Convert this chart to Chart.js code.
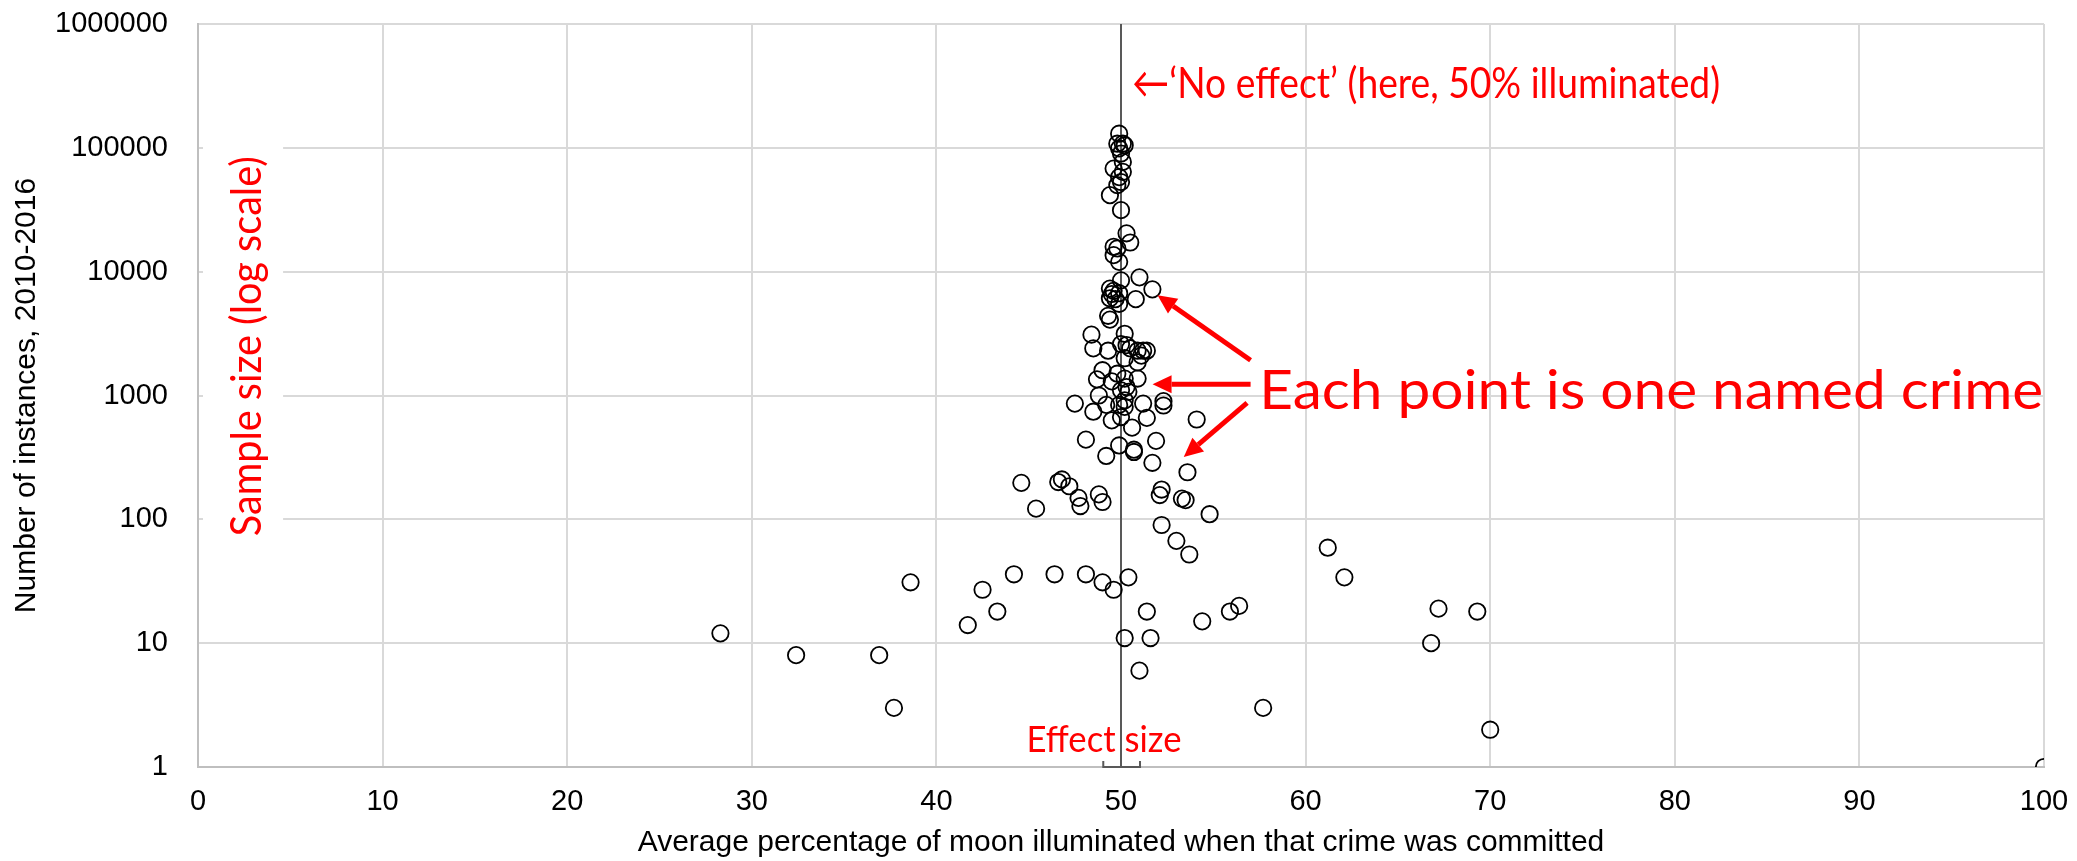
<!DOCTYPE html>
<html>
<head>
<meta charset="utf-8">
<title>Moon illumination vs crime</title>
<script src="https://cdn.jsdelivr.net/npm/chart.js@4.4.1/dist/chart.umd.min.js"></script>
<style>
  html, body { margin: 0; padding: 0; background: #fff; }
  #chart { display: block; }
</style>
</head>
<body>
<canvas id="chart" width="2077" height="861"></canvas>
<script>
/* ── Data ──────────────────────────────────────────────────────────────────── */
// average % of moon illuminated when each named crime was committed
const crimePct = [
  49.9, 49.8, 50.1, 50.2, 49.9, 50.0, 50.1, 49.6, 50.1, 49.9, 50.0, 49.8, 49.4, 50.0,
  50.3, 50.5, 49.6, 49.8, 49.6, 49.9,
  51.0, 50.0, 51.7, 49.4, 49.6, 49.9, 49.5, 50.8, 49.4, 49.7, 49.9, 49.3, 49.4,
  48.4, 50.2, 48.5, 49.3, 50.0, 50.3, 50.5, 50.9, 51.2, 51.4, 51.1, 50.2, 50.9,
  49.0, 48.7, 49.5, 49.8, 50.2, 50.9, 50.3, 50.0, 48.8, 50.4, 50.2, 49.9, 50.2,
  47.5, 49.2, 51.2, 52.3, 52.3, 48.5, 49.5, 50.0, 51.4, 54.1, 50.6, 48.1, 49.9,
  50.7, 50.7, 51.9, 49.2, 51.7, 53.6,
  44.6, 46.6, 46.8, 47.2, 47.7, 47.8, 48.8, 49.0, 45.4, 52.2, 52.1, 53.3, 53.5,
  54.8, 52.2, 53.0, 53.7, 44.2, 46.4, 48.1, 49.0, 49.6, 50.4, 42.5, 43.3, 51.4,
  55.9, 56.4, 28.3, 32.4, 36.9, 37.7, 38.6, 41.7, 50.2, 51.6, 51.0, 61.2, 62.1,
  67.2, 69.3, 66.8, 54.4, 57.7, 70.0, 100,
];
// number of instances, 2010-2016
const crimeCount = [
  130000, 108000, 108000, 105000, 99000, 90000, 77000, 68000, 64000, 58000, 53000, 50000, 41500, 31400,
  20400, 17200, 15900, 15400, 13600, 12000,
  9000, 8500, 7200, 7300, 7000, 6700, 6600, 6000, 6100, 6000, 5500, 4400, 4100,
  3100, 3150, 2400, 2300, 2600, 2550, 2400, 2300, 2300, 2300, 2100, 2000, 1850,
  1600, 1350, 1300, 1500, 1370, 1370, 1170, 1100, 1000, 1070, 915, 840, 810,
  860, 840, 860, 900, 830, 740, 630, 670, 660, 640, 550, 440, 395,
  365, 350, 430, 325, 286, 240,
  197, 200, 210, 185, 149, 128, 159, 138, 122, 174, 157, 147, 143,
  110, 90, 67, 52, 36, 36, 36, 31, 27, 34, 27, 18, 18,
  18, 20, 12, 8, 8, 3, 31, 14, 11, 11, 6, 59, 34,
  19, 18, 10, 15, 3, 2, 1,
];
const yTickValues = [1, 10, 100, 1000, 10000, 100000, 1000000];
const noEffectPct = 50;
const effectRange = [49.04, 51.03];

const AXIS_FONT = "'Liberation Sans', Arial, sans-serif";
const RED_FONT  = "Lato, 'Open Sans', sans-serif";
const RED = '#ff0000';

/* ── Red annotations, drawn in data coordinates ───────────────────────────── */
// Calibri-like text; `squeeze` is the horizontal scale, the font size follows from the width
function redText(ctx, text, x, y, width, squeeze, align) {
  ctx.font = `40px ${RED_FONT}`;
  const size = 40 * width / (ctx.measureText(text).width * squeeze);
  ctx.font = `${size}px ${RED_FONT}`;
  const sx = width / ctx.measureText(text).width;
  ctx.save();
  ctx.translate(x, y);
  ctx.scale(sx, 1);
  ctx.textAlign = align;
  ctx.textBaseline = 'middle';
  ctx.fillText(text, 0, 0);
  ctx.restore();
}

function arrow(ctx, x1, y1, x2, y2) {
  const ang = Math.atan2(y2 - y1, x2 - x1);
  const head = 19, half = 9;
  const bx = x2 - head * Math.cos(ang), by = y2 - head * Math.sin(ang);
  ctx.beginPath();
  ctx.moveTo(x1, y1);
  ctx.lineTo(bx, by);
  ctx.stroke();
  ctx.beginPath();
  ctx.moveTo(x2, y2);
  ctx.lineTo(bx + half * Math.sin(ang), by - half * Math.cos(ang));
  ctx.lineTo(bx - half * Math.sin(ang), by + half * Math.cos(ang));
  ctx.closePath();
  ctx.fill();
}

const annotations = {
  id: 'annotations',
  afterDatasetsDraw(chart) {
    const { ctx, scales: { x, y } } = chart;
    const px = v => x.getPixelForValue(v);
    const py = v => y.getPixelForValue(v);
    ctx.save();
    ctx.fillStyle = RED;
    ctx.strokeStyle = RED;

    redText(ctx, '\u2190\u2018No effect\u2019 (here, 50% illuminated)', px(50.6), py(327000), 588, 0.86, 'left');

    redText(ctx, 'Each point is one named crime', px(57.49), py(1069), 784, 1.1, 'left');
    ctx.lineWidth = 5;
    arrow(ctx, px(57.02), py(1928), px(51.98), py(6460));
    arrow(ctx, px(57.02), py(1233), px(51.71), py(1233));
    arrow(ctx, px(56.83), py(871), px(53.4), py(319));

    redText(ctx, 'Effect size', px(49.08), py(1.64), 155, 0.95, 'center');

    // Sample size (log scale), on a white box that hides the grid behind it
    ctx.fillStyle = '#fff';
    const bx0 = px(0.27), bx1 = px(4.61), by0 = py(600000), by1 = py(12);
    ctx.fillRect(bx0, by0, bx1 - bx0, by1 - by0);
    ctx.fillStyle = RED;
    ctx.translate(px(2.66), py(2500));
    ctx.rotate(-Math.PI / 2);
    redText(ctx, 'Sample size (log scale)', 0, 0, 380, 0.95, 'center');
    ctx.restore();
  },
};

/* ── Chart ──────────────────────────────────────────────────────────────────── */
const tickFont = { family: AXIS_FONT, size: 29 };
const titleFont = { family: AXIS_FONT, size: 30 };

new Chart(document.getElementById('chart'), {
  type: 'scatter',
  data: {
    datasets: [
      {
        label: 'Crimes',
        data: crimePct.map((p, i) => ({ x: p, y: crimeCount[i] })),
        pointRadius: 8.2,
        pointHoverRadius: 8.2,
        borderWidth: 1.8,
        borderColor: '#000',
        backgroundColor: 'rgba(0,0,0,0)',
        order: 0,
      },
      {
        type: 'line',
        label: 'No effect',
        data: [{ x: noEffectPct, y: yTickValues[0] }, { x: noEffectPct, y: yTickValues[yTickValues.length - 1] }],
        borderColor: '#595959',
        borderWidth: 2,
        pointRadius: 0,
        order: 1,
      },
      {
        type: 'line',
        label: 'Effect range',
        data: [
          { x: effectRange[0], y: 1.12 }, { x: effectRange[0], y: 1 },
          { x: effectRange[1], y: 1 }, { x: effectRange[1], y: 1.12 },
        ],
        borderColor: '#595959',
        borderWidth: 2,
        pointRadius: 0,
        clip: false,
        order: 1,
      },
    ],
  },
  options: {
    responsive: false,
    animation: false,
    events: [],
    layout: { padding: { top: 24, right: 33, left: 0, bottom: 0 } },
    plugins: { legend: { display: false }, tooltip: { enabled: false } },
    scales: {
      x: {
        type: 'linear',
        min: 0,
        max: 100,
        ticks: { stepSize: 10, font: tickFont, color: '#000', padding: 4, maxRotation: 0 },
        grid: { color: '#d9d9d9', lineWidth: 2, drawTicks: true, tickLength: 14, tickColor: 'rgba(0,0,0,0)' },
        border: { color: '#bfbfbf', width: 2 },
        title: {
          display: true,
          text: 'Average percentage of moon illuminated when that crime was committed',
          font: titleFont,
          color: '#000',
          padding: { top: 0, bottom: 0 },
        },
        afterFit(scale) { scale.height = 94; },
      },
      y: {
        type: 'logarithmic',
        min: 1,
        max: 1000000,
        afterBuildTicks(scale) { scale.ticks = yTickValues.map(v => ({ value: v })); },
        ticks: { font: tickFont, color: '#000', padding: 4, autoSkip: false, callback: v => String(v) },
        grid: { color: '#d9d9d9', lineWidth: 2, drawTicks: true, tickLength: 26, tickColor: 'rgba(0,0,0,0)' },
        border: { color: '#bfbfbf', width: 2 },
        title: {
          display: true,
          text: 'Number of instances, 2010-2016',
          font: titleFont,
          color: '#000',
          padding: { top: 9, bottom: 0 },
        },
        afterFit(scale) { scale.width = 198; },
      },
    },
  },
  plugins: [annotations],
});
</script>
</body>
</html>
